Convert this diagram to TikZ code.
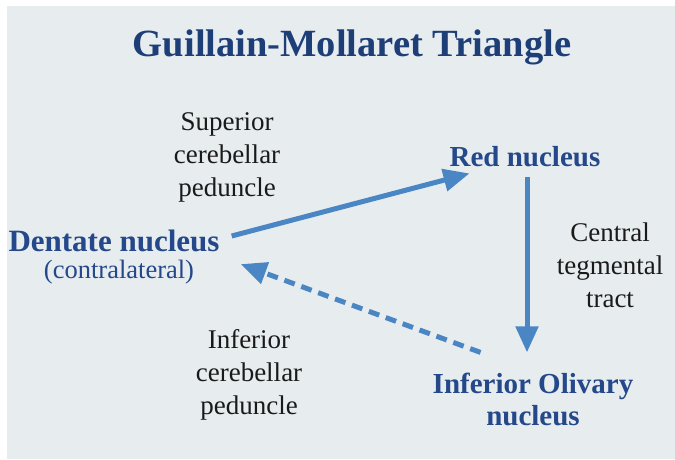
\documentclass[tikz,border=0pt]{standalone}
\usepackage{fontspec}
\setmainfont{Liberation Serif}
\usetikzlibrary{arrows.meta,calc}
\definecolor{bgc}{HTML}{E7ECEF}
\definecolor{titlec}{HTML}{1E3E78}
\definecolor{nodec}{HTML}{24488A}
\definecolor{arrc}{HTML}{4A86C4}
\definecolor{labc}{HTML}{1A1A1A}
\tikzset{
  titletext/.style={font=\fontsize{38.5}{40}\selectfont\bfseries, text=titlec, inner sep=0pt},
  nucleus/.style={font=\fontsize{29}{32}\selectfont\bfseries, text=nodec, inner sep=0pt, align=center},
  bignucleus/.style={font=\fontsize{31}{32}\selectfont\bfseries, text=nodec, inner sep=0pt},
  subnote/.style={font=\fontsize{26.5}{28}\selectfont, text=nodec, inner sep=0pt},
  pathlabel/.style={font=\fontsize{27}{33}\selectfont, text=labc, inner sep=0pt, align=center},
  arr/.style={draw=arrc, line width=5pt, -{Triangle[length=26pt,width=22pt]}},
  dasharr/.style={arr, dash pattern=on 11pt off 7pt}
}
\begin{document}
\begin{tikzpicture}[x=1pt,y=-1pt]
\useasboundingbox (0,0) rectangle (675,459);
\fill[white] (0,0) rectangle (675,459);
\fill[bgc] (7,6) rectangle (675,459);
\node[titletext] (title) at (352,47) {Guillain-Mollaret Triangle};
\node[nucleus] (red) at (525,157) {Red nucleus};
\node[bignucleus] (dent) at (114,241) {Dentate nucleus};
\node[subnote] (dentc) at (119,272) {(contralateral)};
\node[nucleus] (oliv) at (533,399) {Inferior Olivary\\nucleus};
\node[pathlabel] (scp) at (227,157) {Superior\\cerebellar\\peduncle};
\node[pathlabel] (ctt) at (610,265) {Central\\tegmental\\tract};
\node[pathlabel] (icp) at (249,375) {Inferior\\cerebellar\\peduncle};
\draw[arr] ([shift={(12,-5)}]dent.east) -- ([shift={(20,6)}]red.south west);
\draw[arr, shorten <=10pt, shorten >=20pt] ([xshift=2pt]red.south) -- ([xshift=2pt]red.south |- oliv.north);
\draw[dasharr] ([shift={(48,-20)}]oliv.north west) -- ([shift={(21,12)}]dent.south east);
\end{tikzpicture}
\end{document}
